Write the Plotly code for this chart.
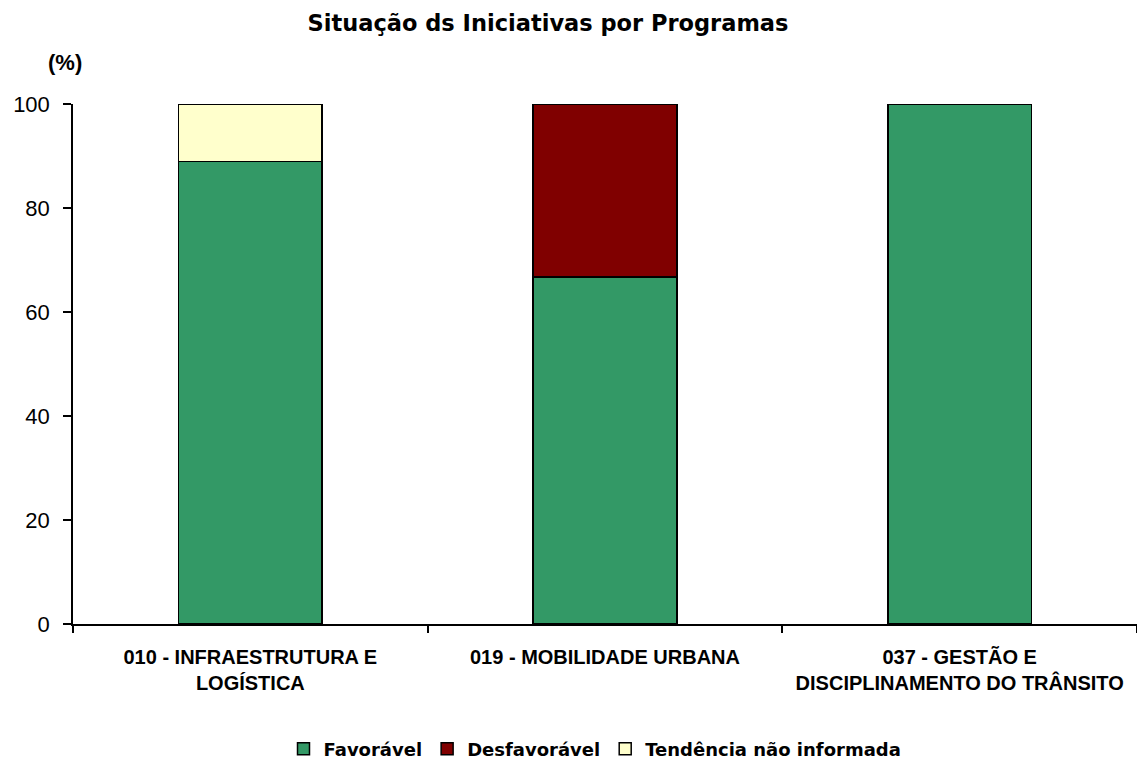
import plotly.graph_objects as go

categories = ["010 - INFRAESTRUTURA E<br>LOGÍSTICA", "019 - MOBILIDADE URBANA", "037 - GESTÃO E<br>DISCIPLINAMENTO DO TRÂNSITO"]
favoravel = [88.9, 66.7, 100.0]
desfavoravel = [0.0, 33.3, 0.0]
tendencia = [11.1, 0.0, 0.0]
y_ticks = [0, 20, 40, 60, 80, 100]

FONT = "Liberation Sans, Arial, sans-serif"
WIDE = "DejaVu Sans, Liberation Sans, sans-serif"

W, H = 1137, 762

fig = go.Figure()
series = [("<b>Favorável</b>", favoravel, "#339966"),
          ("<b>Desfavorável</b>", desfavoravel, "#800000"),
          ("<b>Tendência não informada</b>", tendencia, "#FFFFCC")]
for name, vals, color in series:
    fig.add_trace(go.Bar(
        x=categories, y=vals, name=name,
        marker=dict(color=color, line=dict(color="black", width=1.5)),
        width=0.405,
    ))

fig.update_layout(
    barmode="stack",
    width=W, height=H,
    margin=dict(l=73, r=0, t=104, b=138, autoexpand=False),
    plot_bgcolor="white", paper_bgcolor="white",
    font=dict(family=FONT, color="black"),
    title=dict(text="<b>Situação ds Iniciativas por Programas</b>",
               x=548 / W, xref="container", xanchor="center",
               y=1 - 23 / H, yref="container", yanchor="middle",
               font=dict(size=22.5, family=WIDE)),
    showlegend=True,
    legend=dict(orientation="h", x=0.5 - 10 / 1064, xanchor="center", y=-(749 - 624) / 520,
                yanchor="middle",
                font=dict(size=18, family=WIDE), traceorder="normal",
                itemwidth=30),
    xaxis=dict(type="category", showline=True, linecolor="black", linewidth=1.5,
               ticks="outside", tickson="boundaries", ticklen=7, tickcolor="black",
               tickwidth=1.5,
               tickfont=dict(size=20, family=FONT),
               tickvals=categories,
               ticktext=["<b>" + c + "</b>" for c in categories],
               ticklabelstandoff=14,
               showgrid=False, range=[-0.5, 2.5]),
    yaxis=dict(range=[0, 100], tickvals=y_ticks, showline=True, linecolor="black",
               linewidth=1.5, ticks="outside", ticklen=8, tickcolor="black", tickwidth=1.5,
               tickfont=dict(size=22, family=FONT), showgrid=False, zeroline=False,
               ticklabelstandoff=9),
    annotations=[dict(text="<b>(%)</b>", x=0, xref="paper", xanchor="center", xshift=-8,
                      y=1, yref="paper", yanchor="middle", yshift=42,
                      showarrow=False, font=dict(size=22, family=FONT))],
)

fig.write_html("out.html",
               config={"displayModeBar": False},
               post_script="document.body.style.margin='0';document.body.style.overflow='hidden';")
